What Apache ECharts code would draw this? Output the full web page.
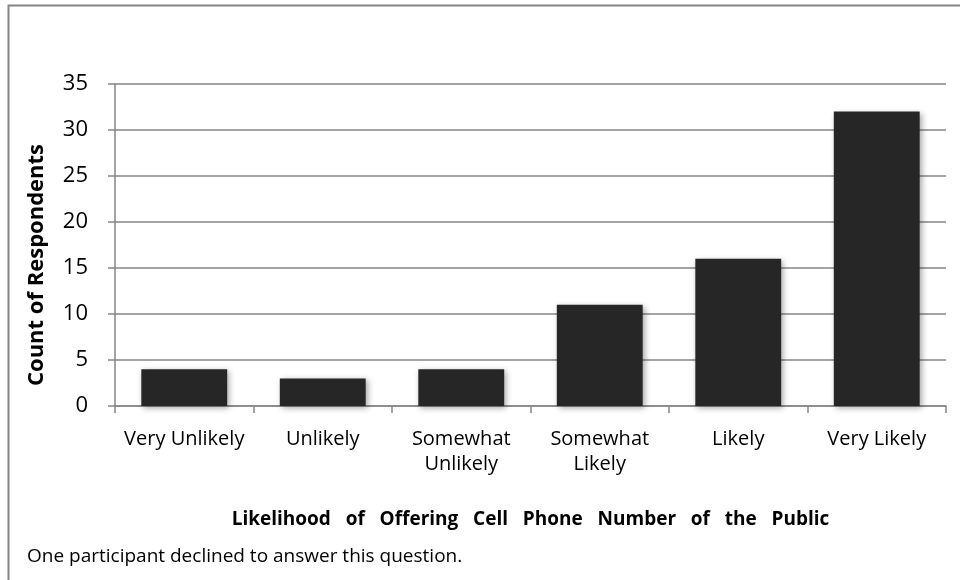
<!DOCTYPE html>
<html><head><meta charset="utf-8">
<script src="https://cdn.jsdelivr.net/npm/echarts@6/dist/echarts.min.js"></script>
<style>html,body{margin:0;padding:0;background:#fff}#c{width:960px;height:580px}</style>
</head><body><div id="c"></div>
<script>
const categories = ['Very Unlikely', 'Unlikely', 'Somewhat\nUnlikely', 'Somewhat\nLikely', 'Likely', 'Very Likely'];
const counts = [4, 3, 4, 11, 16, 32];
const yTicks = {min: 0, max: 35, interval: 5};
const xTitle = 'Likelihood   of   Offering   Cell   Phone   Number   of   the   Public';
const yTitle = 'Count of Respondents';
const note = 'One participant declined to answer this question.';

const font = '"Open Sans", sans-serif';
const chart = echarts.init(document.getElementById('c'), null, {renderer: 'canvas'});
chart.setOption({
  animation: false,
  backgroundColor: '#fff',
  grid: {left: 115, right: 14, top: 84, bottom: 174},
  graphic: [
    {type: 'rect', shape: {x: 8.5, y: 5.5, width: 1000, height: 1000}, style: {fill: 'none', stroke: '#868686', lineWidth: 2}, silent: true},
    {type: 'text', x: 37, y: 265, rotation: Math.PI / 2,
     style: {text: yTitle, font: 'bold 22px ' + font, fill: '#000', align: 'center', verticalAlign: 'middle'}},
    {type: 'text', left: 27, top: 547, style: {text: note, font: '19px ' + font, fill: '#000'}}
  ],
  xAxis: {
    type: 'category', data: categories,
    name: xTitle, nameLocation: 'middle', nameGap: 104,
    nameTextStyle: {fontFamily: font, fontSize: 19, fontWeight: 'bold', color: '#000'},
    axisLine: {lineStyle: {color: '#868686', width: 1.5}},
    axisTick: {show: true, length: 7, lineStyle: {color: '#868686', width: 1.5}},
    axisLabel: {fontFamily: font, fontSize: 20, color: '#000', margin: 21, lineHeight: 25, interval: 0}
  },
  yAxis: {
    type: 'value', min: yTicks.min, max: yTicks.max, interval: yTicks.interval,
    axisLine: {show: true, lineStyle: {color: '#868686', width: 1.5}},
    axisTick: {show: true, length: 7, lineStyle: {color: '#868686', width: 1.5}},
    splitLine: {lineStyle: {color: '#868686', width: 1.5}},
    axisLabel: {fontFamily: font, fontSize: 22, color: '#000', margin: 27}
  },
  series: [{
    type: 'bar', data: counts, barWidth: '62%',
    itemStyle: {color: '#262626', shadowBlur: 6, shadowColor: 'rgba(0,0,0,0.35)', shadowOffsetX: 2, shadowOffsetY: 2}
  }]
});
</script></body></html>
